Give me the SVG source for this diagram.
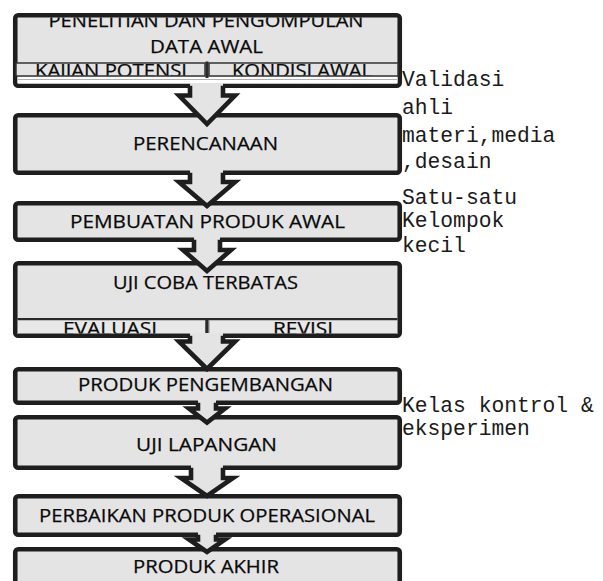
<svg xmlns="http://www.w3.org/2000/svg" width="603" height="581" viewBox="0 0 603 581">
  <style>
    .box { fill: #e4e4e4; stroke: #1e1e1e; stroke-width: 4.6; }
    .cell { fill: #e4e4e4; stroke: #333333; stroke-width: 1.5; }
    .sep { stroke: #2a2a2a; stroke-width: 3; }
    .lbl { font-family: "Open Sans", "Liberation Sans", sans-serif; font-size: 19px; fill: #0a0a0a; text-anchor: middle; stroke: #0a0a0a; stroke-width: 0.25; }
    .note { font-family: "Liberation Mono", "DejaVu Sans Mono", monospace; font-size: 21.3px; fill: #1a1a1a; }
    .arrfill { fill: #e4e4e4; stroke: none; }
    .arrline { fill: none; stroke: #1e1e1e; stroke-width: 4.6; stroke-linejoin: miter; }
  </style>
  <defs>
    <clipPath id="c1"><rect x="17.5" y="17.5" width="380" height="66"/></clipPath>
    <clipPath id="c1a"><rect x="15" y="63.5" width="190" height="12"/></clipPath>
    <clipPath id="c1b"><rect x="209" y="63.5" width="189" height="12"/></clipPath>
    <clipPath id="c4a"><rect x="15" y="320.5" width="190" height="13"/></clipPath>
    <clipPath id="c4b"><rect x="209" y="320.5" width="189" height="13"/></clipPath>
  </defs>
  <rect x="0" y="0" width="603" height="581" fill="#ffffff"/>

  <g id="node-penelitian">
    <rect class="box" x="15.25" y="15.25" width="384.5" height="70.5" rx="3"/>
    <g clip-path="url(#c1)">
      <text class="lbl" x="206" y="27" textLength="315" lengthAdjust="spacingAndGlyphs">PENELITIAN DAN PENGOMPULAN</text>
    </g>
    <text class="lbl" x="206.5" y="53" textLength="113" lengthAdjust="spacingAndGlyphs">DATA AWAL</text>
    <rect x="17.5" y="77" width="380" height="6.5" fill="#ffffff"/>
    <line x1="17.5" y1="79.5" x2="397.5" y2="79.5" stroke="#b0b0b0" stroke-width="1.2"/>
    <rect class="cell" x="16" y="63" width="189" height="13"/>
    <rect class="cell" x="209" y="63" width="189" height="13"/>
    <g clip-path="url(#c1a)">
      <text class="lbl" x="111" y="77" textLength="152" lengthAdjust="spacingAndGlyphs">KAJIAN POTENSI</text>
    </g>
    <g clip-path="url(#c1b)">
      <text class="lbl" x="302" y="77" textLength="140" lengthAdjust="spacingAndGlyphs">KONDISI AWAL</text>
    </g>
    <line class="sep" x1="207" y1="61.5" x2="207" y2="78"/>
  </g>

  <g id="node-perencanaan">
    <rect class="box" x="15.25" y="115.25" width="384.5" height="57.5" rx="3"/>
    <text class="lbl" x="205.5" y="150" textLength="145" lengthAdjust="spacingAndGlyphs">PERENCANAAN</text>
  </g>

  <g id="node-pembuatan">
    <rect class="box" x="15.25" y="203.25" width="384.5" height="36.5" rx="3"/>
    <text class="lbl" x="207.5" y="227.5" textLength="275" lengthAdjust="spacingAndGlyphs">PEMBUATAN PRODUK AWAL</text>
  </g>

  <g id="node-ujicoba">
    <rect class="box" x="15.25" y="263.25" width="384.5" height="72.5" rx="3"/>
    <text class="lbl" x="205.5" y="288.5" textLength="185" lengthAdjust="spacingAndGlyphs">UJI COBA TERBATAS</text>
    <rect x="17.5" y="320" width="188" height="13.5" fill="#e8e8e8" stroke="#8a8a8a" stroke-width="1"/>
    <rect x="209" y="320" width="188.5" height="13.5" fill="#e8e8e8" stroke="#8a8a8a" stroke-width="1"/>
    <line x1="17.5" y1="319" x2="397.5" y2="319" stroke="#2a2a2a" stroke-width="2"/>
    <g clip-path="url(#c4a)">
      <text class="lbl" x="110" y="335" textLength="94" lengthAdjust="spacingAndGlyphs">EVALUASI</text>
    </g>
    <g clip-path="url(#c4b)">
      <text class="lbl" x="303" y="335" textLength="60" lengthAdjust="spacingAndGlyphs">REVISI</text>
    </g>
    <line class="sep" x1="207" y1="318" x2="207" y2="335"/>
  </g>

  <g id="node-produk-pengembangan">
    <rect class="box" x="15.25" y="369.25" width="384.5" height="33.5" rx="3"/>
    <text class="lbl" x="205.5" y="391" textLength="255" lengthAdjust="spacingAndGlyphs">PRODUK PENGEMBANGAN</text>
  </g>

  <g id="node-uji-lapangan">
    <rect class="box" x="15.25" y="417.25" width="384.5" height="50.5" rx="3"/>
    <text class="lbl" x="206.5" y="451" textLength="141" lengthAdjust="spacingAndGlyphs">UJI LAPANGAN</text>
  </g>

  <g id="node-perbaikan">
    <rect class="box" x="15.25" y="496.25" width="384.5" height="38.5" rx="3"/>
    <text class="lbl" x="207" y="521.5" textLength="336" lengthAdjust="spacingAndGlyphs">PERBAIKAN PRODUK OPERASIONAL</text>
  </g>

  <g id="node-produk-akhir">
    <rect class="box" x="15.25" y="549.25" width="384.5" height="60" rx="3"/>
    <text class="lbl" x="206" y="573" textLength="146" lengthAdjust="spacingAndGlyphs">PRODUK AKHIR</text>
  </g>

  <g id="connectors">
    <g id="arrow-1">
      <polygon class="arrfill" points="190,83 190,95.5 179,95.5 207,124 235,95.5 223,95.5 223,83"/>
      <polyline class="arrline" points="190,85.75 190,95.5 179,95.5 207,124 235,95.5 223,95.5 223,85.75"/>
    </g>
    <g id="arrow-2">
      <polygon class="arrfill" points="190,170 190,182 179,182 207,206 235,182 223,182 223,170"/>
      <polyline class="arrline" points="190,172.75 190,182 179,182 207,206 235,182 223,182 223,172.75"/>
    </g>
    <g id="arrow-3">
      <polygon class="arrfill" points="194,237 194,250 183,250 207,271 231,250 220,250 220,237"/>
      <polyline class="arrline" points="194,239.75 194,250 183,250 207,271 231,250 220,250 220,239.75"/>
    </g>
    <g id="arrow-4">
      <polygon class="arrfill" points="190,333 190,341.5 179,341.5 207,369 235,341.5 223,341.5 223,333"/>
      <polyline class="arrline" points="190,335.75 190,341.5 179,341.5 207,369 235,341.5 223,341.5 223,335.75"/>
    </g>
    <g id="arrow-5">
      <polygon class="arrfill" points="198,400 198,408.5 189,408.5 207,422.5 225,408.5 216,408.5 216,400"/>
      <polyline class="arrline" points="198,402.75 198,408.5 189,408.5 207,422.5 225,408.5 216,408.5 216,402.75"/>
    </g>
    <g id="arrow-6">
      <polygon class="arrfill" points="191,465 191,478 181,478 207,496 233,478 223,478 223,465"/>
      <polyline class="arrline" points="191,467.75 191,478 181,478 207,496 233,478 223,478 223,467.75"/>
    </g>
    <g id="arrow-7">
      <polygon class="arrfill" points="198,532 198,539.5 189,539.5 207,552 225,539.5 216,539.5 216,532"/>
      <polyline class="arrline" points="198,534.75 198,539.5 189,539.5 207,552 225,539.5 216,539.5 216,534.75"/>
    </g>
  </g>

  <g id="notes">
    <text class="note" x="402" y="86">Validasi</text>
    <text class="note" x="402" y="114">ahli</text>
    <text class="note" x="402" y="141.5">materi,media</text>
    <text class="note" x="402" y="168">,desain</text>
    <text class="note" x="402" y="204">Satu-satu</text>
    <text class="note" x="402" y="227">Kelompok</text>
    <text class="note" x="402" y="251.5">kecil</text>
    <text class="note" x="402" y="412">Kelas kontrol &amp;</text>
    <text class="note" x="402" y="435">eksperimen</text>
  </g>
</svg>
